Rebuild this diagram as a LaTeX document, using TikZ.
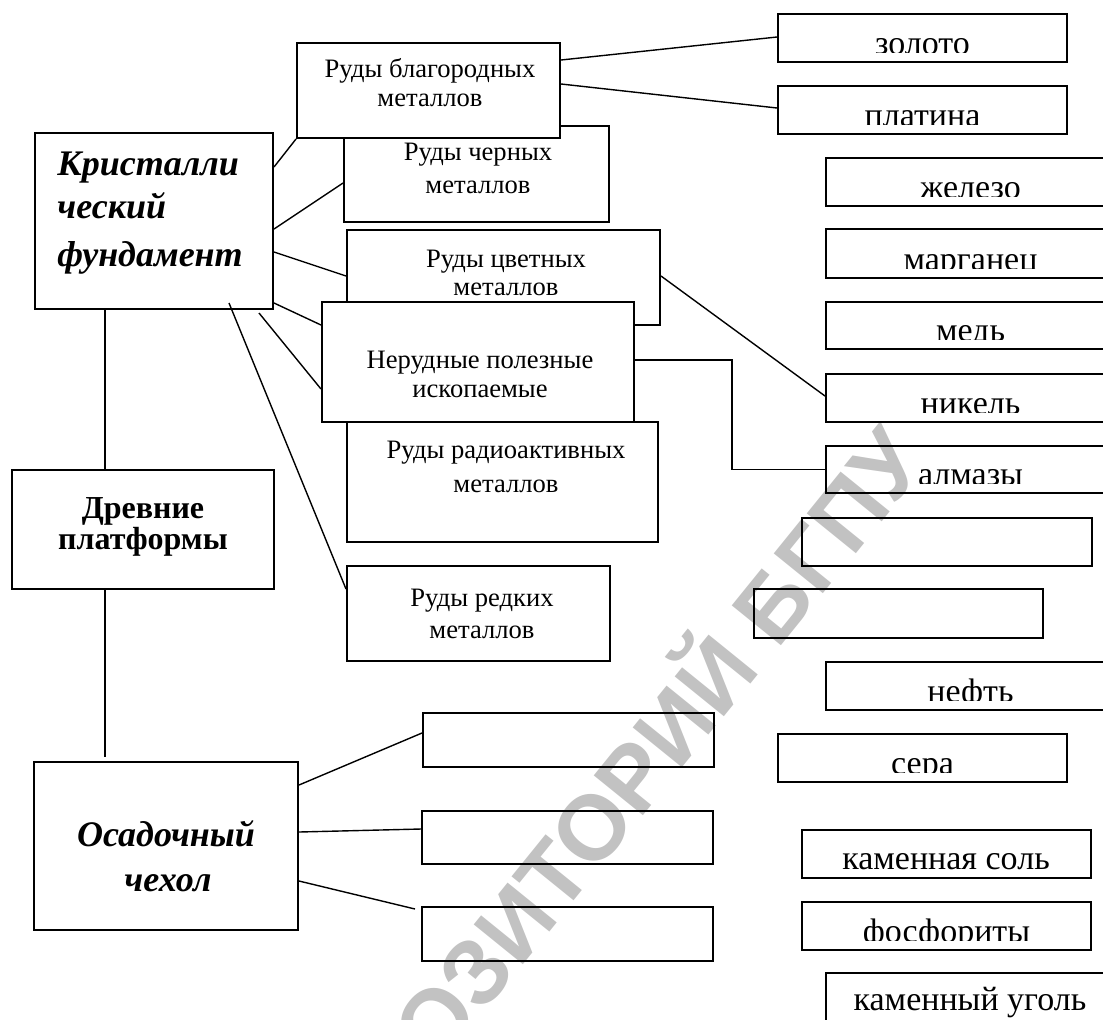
\documentclass[tikz,border=0pt]{standalone}
\usepackage{fontspec}
\setmainfont{Liberation Serif}
\newfontfamily\wmfont{Liberation Sans}
\usetikzlibrary{fit,calc}
\newcommand\mkrbox[6]{%
  \node[box, fit={(#2,#3) (#4,#5)}] (#1) {};
  \begin{scope}
    \clip (#2,#3) rectangle (#4,{#5-10});
    \node[rt] (#1-t) at ({(#2+#4)/2},{#5-8}) {#6};
  \end{scope}}
\begin{document}
\begin{tikzpicture}[x=0.5pt,y=-0.5pt,
  box/.style={draw, line width=1pt, inner sep=0pt},
  wbox/.style={box, fill=white},
  conn/.style={line width=0.7pt},
  lt/.style={inner sep=0pt, anchor=base, font=\fontsize{13.3pt}{15pt}\selectfont},
  rt/.style={inner sep=0pt, anchor=base, font=\fontsize{17pt}{20pt}\selectfont},
  bi/.style={inner sep=0pt, font=\fontsize{18pt}{22pt}\selectfont\bfseries\itshape},
  bd/.style={inner sep=0pt, anchor=base, font=\fontsize{16pt}{19pt}\selectfont\bfseries},
  wm/.style={inner sep=0pt, text=black!24, font=\wmfont\fontsize{46pt}{50pt}\selectfont\bfseries},
]
\useasboundingbox (0,0) rectangle (1103,1019);

% watermark
\node[wm, rotate=51, anchor=base east] (wmark) at (930,462) {РЕПОЗИТОРИЙ БГПУ};

% main boxes
\node[box, fit={(35,133) (273,309)}] (kf) {};
\node[box, fit={(12,470) (274,589)}] (dp) {};
\node[box, fit={(34,762) (298,930)}] (os) {};

\node[bi, anchor=base west] (kf-t1) at (57,175) {Кристалли};
\node[bi, anchor=base west] (kf-t2) at (57,218) {ческий};
\node[bi, anchor=base west] (kf-t3) at (57,266) {фундамент};
\node[bd] (dp-t1) at (143,518) {Древние};
\node[bd] (dp-t2) at (143,549) {платформы};
\node[bi, anchor=base] (os-t1) at (166,846) {Осадочный};
\node[bi, anchor=base] (os-t2) at (168,891) {чехол};

% ore boxes
\node[box, fit={(344,126) (609,222)}] (chern) {};
\node[wbox, fit={(297,43) (560,138)}] (blag) {};
\node[box, fit={(347,230) (660,325)}] (cvet) {};
\node[box, fit={(347,422) (658,542)}] (radio) {};
\node[wbox, fit={(322,302) (634,422)}] (nerud) {};
\node[box, fit={(347,566) (610,661)}] (redk) {};

\node[lt] (blag-t1) at (430,77) {Руды благородных};
\node[lt] (blag-t2) at (430,106) {металлов};
\node[lt] (chern-t1) at (478,160) {Руды черных};
\node[lt] (chern-t2) at (478,193) {металлов};
\node[lt] (cvet-t1) at (506,267) {Руды цветных};
\node[lt] (cvet-t2) at (506,295) {металлов};
\node[lt] (nerud-t1) at (480,368) {Нерудные полезные};
\node[lt] (nerud-t2) at (480,397) {ископаемые};
\node[lt] (radio-t1) at (506,458) {Руды радиоактивных};
\node[lt] (radio-t2) at (506,492) {металлов};
\node[lt] (redk-t1) at (482,606) {Руды редких};
\node[lt] (redk-t2) at (482,638) {металлов};

% sedimentary empty boxes
\node[box, fit={(423,713) (714,767)}] (sa) {};
\node[box, fit={(422,811) (713,864)}] (sb) {};
\node[box, fit={(422,907) (713,961)}] (sc) {};

% right column
\mkrbox{zoloto}{778}{14}{1067}{62}{золото}
\mkrbox{platina}{778}{86}{1067}{134}{платина}
\mkrbox{zhelezo}{826}{158}{1115}{206}{железо}
\mkrbox{marganec}{826}{229}{1115}{278}{марганец}
\mkrbox{med}{826}{302}{1115}{349}{медь}
\mkrbox{nikel}{826}{374}{1115}{422}{никель}
\mkrbox{almazy}{826}{446}{1115}{493}{алмазы}
\node[box, fit={(802,518) (1092,566)}] (ea) {};
\node[box, fit={(754,589) (1043,638)}] (eb) {};
\mkrbox{neft}{826}{662}{1115}{710}{нефть}
\mkrbox{sera}{778}{734}{1067}{782}{сера}
\node[box, fit={(802,830) (1091,878)}] (kamsol) {};
\node[rt] (kamsol-t) at (946,869) {каменная соль};
\mkrbox{fosfor}{802}{902}{1091}{950}{фосфориты}
\node[box, fit={(826,973) (1115,1024)}] (kamug) {};
\node[rt] (kamug-t) at (970,1010) {каменный уголь};

% connectors
\draw[conn] ($(kf.north east)+(0,35)$) -- (blag.south west);
\draw[conn] ($(kf.north east)+(0,97)$) -- ($(chern.north west)+(0,58)$);
\draw[conn] ($(kf.north east)+(0,120)$) -- ($(cvet.north west)+(0,47)$);
\draw[conn] ($(kf.south east)+(0,-7)$) -- ($(nerud.north west)+(0,24)$);
\draw[conn] ($(kf.south east)+(-15,3)$) -- ($(nerud.north west)+(0,88)$);
\draw[conn] ($(kf.south east)+(-45,-7)$) -- ($(redk.north west)+(0,24)$);
\draw[conn] ($(kf.south west)+(71,0)$) -- ($(dp.north west)+(94,0)$);
\draw[conn] ($(dp.south west)+(94,0)$) -- ($(os.north west)+(72,-4)$);
\draw[conn] ($(blag.north east)+(0,18)$) -- ($(zoloto.north west)+(0,24)$);
\draw[conn] ($(blag.north east)+(0,42)$) -- ($(platina.north west)+(0,23)$);
\draw[conn] ($(cvet.north east)+(0,47)$) -- ($(nikel.north west)+(0,23)$);
\draw[conn] ($(nerud.north east)+(0,59)$) -- ++(97,0) |- (almazy.west);
\draw[conn] ($(os.north east)+(0,24)$) -- ($(sa.north west)+(0,21)$);
\draw[conn] ($(os.north east)+(0,71)$) -- ($(sb.north west)+(0,19)$);
\draw[conn] ($(os.north east)+(0,120)$) -- ($(sc.north west)+(-6,3)$);
\end{tikzpicture}
\end{document}
